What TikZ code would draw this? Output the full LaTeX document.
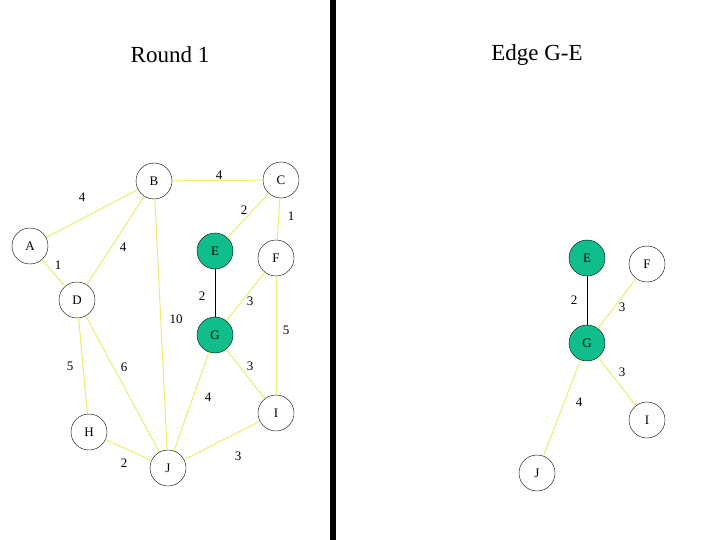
\documentclass[tikz,border=0pt]{standalone}
\usepackage{fontspec}
\setmainfont{Liberation Serif}
\definecolor{roadyellow}{RGB}{236,236,110}
\definecolor{pickteal}{RGB}{16,190,140}
\tikzset{
  vertex/.style={circle, draw, fill=white, minimum size=36pt, inner sep=0pt, font=\fontsize{13}{15}\selectfont},
  picked/.style={vertex, fill=pickteal},
  road/.style={draw=roadyellow, line width=1pt},
  tree/.style={draw=black, line width=0.9pt},
  lbl/.style={inner sep=0pt, font=\fontsize{13}{15}\selectfont},
  title/.style={font=\fontsize{23}{27}\selectfont}
}

\begin{document}
\begin{tikzpicture}[x=1pt,y=-1pt]
  \useasboundingbox (0,0) rectangle (720,540);
  \fill[black] (330,0) rectangle (336,540);

  \node[title] (t1) at (170,55) {Round 1};
  \node[title] (t2) at (537,55) {Edge G-E};

  % full graph
  \node[vertex] (A) at (30,246)  {A};
  \node[vertex] (B) at (154,181) {B};
  \node[vertex] (C) at (281,180) {C};
  \node[picked] (E) at (215,251) {E};
  \node[vertex] (F) at (276,258) {F};
  \node[vertex] (D) at (77,300)  {D};
  \node[picked] (G) at (215,335) {G};
  \node[vertex] (H) at (89,432)  {H};
  \node[vertex] (J) at (168,468) {J};
  \node[vertex] (I) at (276,413) {I};

  \draw[road] (A) -- (B);
  \draw[road] (B) -- (C);
  \draw[road] (C) -- (E);
  \draw[road] (C) -- (F);
  \draw[road] (B) -- (D);
  \draw[road] (A) -- (D);
  \draw[road] (F) -- (G);
  \draw[road] (B) -- (J);
  \draw[road] (F) -- (I);
  \draw[road] (D) -- (H);
  \draw[road] (D) -- (J);
  \draw[road] (G) -- (I);
  \draw[road] (G) -- (J);
  \draw[road] (H) -- (J);
  \draw[road] (J) -- (I);
  \draw[tree] (E) -- (G);

  \node[lbl] (lAB) at (82,197)  {4};
  \node[lbl] (lBC) at (219,175) {4};
  \node[lbl] (lCE) at (244,210) {2};
  \node[lbl] (lCF) at (291,216) {1};
  \node[lbl] (lBD) at (123,247) {4};
  \node[lbl] (lAD) at (58,265)  {1};
  \node[lbl] (lEG) at (202,296) {2};
  \node[lbl] (lFG) at (250,301) {3};
  \node[lbl] (lBJ) at (176,319) {10};
  \node[lbl] (lFI) at (286,330) {5};
  \node[lbl] (lDH) at (70,366)  {5};
  \node[lbl] (lDJ) at (124,367) {6};
  \node[lbl] (lGI) at (250,366) {3};
  \node[lbl] (lGJ) at (208,397) {4};
  \node[lbl] (lHJ) at (124,463) {2};
  \node[lbl] (lJI) at (238,456) {3};

  % after picking G-E
  \node[picked] (E2) at (587,258) {E};
  \node[vertex] (F2) at (647,264) {F};
  \node[picked] (G2) at (587,343) {G};
  \node[vertex] (I2) at (647,420) {I};
  \node[vertex] (J2) at (537,473) {J};

  \draw[tree] (E2) -- (G2);
  \draw[road] (G2) -- (F2);
  \draw[road] (G2) -- (I2);
  \draw[road] (G2) -- (J2);

  \node[lbl] (lEG2) at (574,300) {2};
  \node[lbl] (lGF2) at (622,307) {3};
  \node[lbl] (lGI2) at (622,372) {3};
  \node[lbl] (lGJ2) at (579,402) {4};
\end{tikzpicture}
\end{document}
